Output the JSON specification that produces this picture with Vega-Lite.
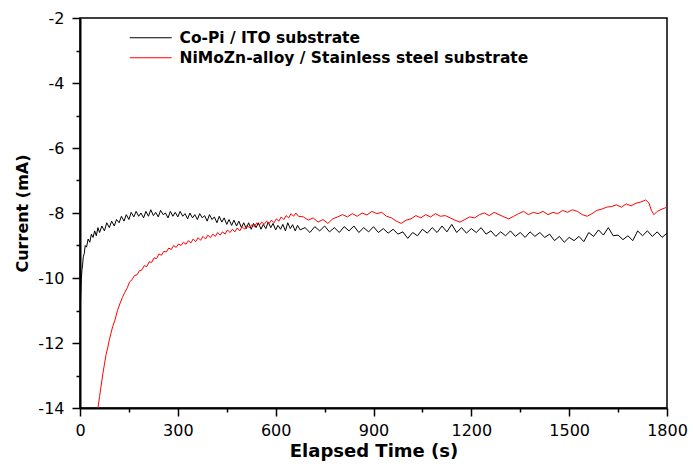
{
  "$schema": "https://vega.github.io/schema/vega-lite/v6.json",
  "width": 587,
  "height": 390,
  "autosize": {"type": "none"},
  "padding": {"left": 80, "top": 18, "right": 26, "bottom": 58},
  "background": "white",
  "config": {
    "view": {"stroke": "black", "strokeWidth": 1.5},
    "axis": {
      "domainColor": "black", "domainWidth": 2, "tickColor": "black", "tickWidth": 1.5,
      "labelFont": "DejaVu Sans", "labelFontSize": 16, "labelColor": "black",
      "titleFont": "DejaVu Sans", "titleFontWeight": "bold", "titleColor": "black",
      "grid": false
    },
    "legend": {"labelFont": "DejaVu Sans", "labelFontSize": 15.5, "labelFontWeight": "bold", "labelColor": "black", "labelLimit": 0}
  },
  "datasets": {
    "copi": [
      {"t":0,"v":-11.45},{"t":2,"v":-10.6},{"t":4,"v":-10.05},{"t":6,"v":-9.75},{"t":8,"v":-9.6},{"t":10,"v":-9.35},{"t":13,"v":-9.25},{"t":16,"v":-9.0},{"t":20,"v":-9.05},{"t":25,"v":-8.8},{"t":30,"v":-8.9},{"t":35,"v":-8.65},{"t":40,"v":-8.75},{"t":45,"v":-8.55},{"t":50,"v":-8.7},{"t":55,"v":-8.45},{"t":60,"v":-8.6},{"t":67,"v":-8.4},{"t":75,"v":-8.55},{"t":82,"v":-8.3},{"t":90,"v":-8.45},{"t":97,"v":-8.25},{"t":105,"v":-8.4},{"t":112,"v":-8.2},{"t":120,"v":-8.3},{"t":127,"v":-8.1},{"t":135,"v":-8.25},{"t":142,"v":-8.05},{"t":150,"v":-8.2},{"t":157,"v":-7.98},{"t":165,"v":-8.12},{"t":172,"v":-7.95},{"t":180,"v":-8.1},{"t":187,"v":-8.0},{"t":195,"v":-8.15},{"t":202,"v":-7.95},{"t":210,"v":-8.1},{"t":217,"v":-7.9},{"t":225,"v":-8.08},{"t":232,"v":-7.98},{"t":240,"v":-8.12},{"t":247,"v":-7.92},{"t":255,"v":-8.05},{"t":262,"v":-8.0},{"t":270,"v":-8.15},{"t":277,"v":-7.95},{"t":285,"v":-8.1},{"t":292,"v":-7.98},{"t":300,"v":-8.12},{"t":307,"v":-7.95},{"t":315,"v":-8.1},{"t":322,"v":-8.02},{"t":330,"v":-8.18},{"t":337,"v":-8.0},{"t":345,"v":-8.15},{"t":352,"v":-8.05},{"t":360,"v":-8.2},{"t":367,"v":-8.02},{"t":375,"v":-8.15},{"t":382,"v":-8.08},{"t":390,"v":-8.25},{"t":397,"v":-8.05},{"t":405,"v":-8.2},{"t":412,"v":-8.12},{"t":420,"v":-8.3},{"t":427,"v":-8.1},{"t":435,"v":-8.28},{"t":442,"v":-8.15},{"t":450,"v":-8.35},{"t":457,"v":-8.2},{"t":465,"v":-8.38},{"t":472,"v":-8.22},{"t":480,"v":-8.4},{"t":487,"v":-8.25},{"t":495,"v":-8.45},{"t":502,"v":-8.3},{"t":510,"v":-8.48},{"t":517,"v":-8.3},{"t":525,"v":-8.5},{"t":532,"v":-8.32},{"t":540,"v":-8.45},{"t":547,"v":-8.3},{"t":555,"v":-8.5},{"t":562,"v":-8.35},{"t":570,"v":-8.48},{"t":577,"v":-8.28},{"t":585,"v":-8.45},{"t":592,"v":-8.32},{"t":600,"v":-8.52},{"t":607,"v":-8.38},{"t":615,"v":-8.5},{"t":622,"v":-8.35},{"t":630,"v":-8.55},{"t":637,"v":-8.3},{"t":645,"v":-8.48},{"t":652,"v":-8.36},{"t":660,"v":-8.55},{"t":667,"v":-8.38},{"t":675,"v":-8.52},
      {"t":690,"v":-8.45},{"t":705,"v":-8.6},{"t":720,"v":-8.42},{"t":735,"v":-8.55},{"t":750,"v":-8.4},{"t":765,"v":-8.58},{"t":780,"v":-8.45},{"t":795,"v":-8.6},{"t":810,"v":-8.42},{"t":825,"v":-8.55},{"t":840,"v":-8.4},{"t":855,"v":-8.6},{"t":870,"v":-8.45},{"t":885,"v":-8.58},{"t":900,"v":-8.42},{"t":915,"v":-8.6},{"t":930,"v":-8.48},{"t":945,"v":-8.62},{"t":960,"v":-8.5},{"t":975,"v":-8.65},{"t":990,"v":-8.58},{"t":1005,"v":-8.78},{"t":1020,"v":-8.6},{"t":1035,"v":-8.7},{"t":1050,"v":-8.5},{"t":1065,"v":-8.62},{"t":1080,"v":-8.45},{"t":1095,"v":-8.6},{"t":1110,"v":-8.4},{"t":1125,"v":-8.58},{"t":1140,"v":-8.35},{"t":1155,"v":-8.6},{"t":1170,"v":-8.45},{"t":1185,"v":-8.62},{"t":1200,"v":-8.48},{"t":1215,"v":-8.6},{"t":1230,"v":-8.45},{"t":1245,"v":-8.65},{"t":1260,"v":-8.55},{"t":1275,"v":-8.72},{"t":1290,"v":-8.58},{"t":1305,"v":-8.7},{"t":1320,"v":-8.55},{"t":1335,"v":-8.72},{"t":1350,"v":-8.6},{"t":1365,"v":-8.75},{"t":1380,"v":-8.58},{"t":1395,"v":-8.72},{"t":1410,"v":-8.6},{"t":1425,"v":-8.75},{"t":1440,"v":-8.65},{"t":1455,"v":-8.85},{"t":1470,"v":-8.72},{"t":1485,"v":-8.9},{"t":1500,"v":-8.75},{"t":1515,"v":-8.85},{"t":1530,"v":-8.72},{"t":1545,"v":-8.88},{"t":1560,"v":-8.6},{"t":1575,"v":-8.72},{"t":1590,"v":-8.52},{"t":1605,"v":-8.68},{"t":1620,"v":-8.45},{"t":1635,"v":-8.7},{"t":1650,"v":-8.68},{"t":1665,"v":-8.82},{"t":1680,"v":-8.7},{"t":1695,"v":-8.85},{"t":1710,"v":-8.55},{"t":1725,"v":-8.7},{"t":1740,"v":-8.55},{"t":1755,"v":-8.72},{"t":1770,"v":-8.58},{"t":1785,"v":-8.75},{"t":1800,"v":-8.62}
    ],
    "nimozn": [
      {"t":55,"v":-14.0},{"t":60,"v":-13.65},{"t":65,"v":-13.3},{"t":70,"v":-12.95},{"t":75,"v":-12.65},{"t":80,"v":-12.35},{"t":85,"v":-12.15},{"t":90,"v":-11.9},{"t":95,"v":-11.7},{"t":100,"v":-11.5},{"t":107,"v":-11.3},{"t":115,"v":-11.0},{"t":122,"v":-10.8},{"t":130,"v":-10.6},{"t":137,"v":-10.45},{"t":145,"v":-10.3},{"t":152,"v":-10.12},{"t":160,"v":-10.05},{"t":167,"v":-9.92},{"t":175,"v":-9.9},{"t":182,"v":-9.78},{"t":190,"v":-9.75},{"t":197,"v":-9.62},{"t":205,"v":-9.65},{"t":212,"v":-9.5},{"t":220,"v":-9.52},{"t":227,"v":-9.38},{"t":235,"v":-9.4},{"t":242,"v":-9.26},{"t":250,"v":-9.3},{"t":257,"v":-9.18},{"t":265,"v":-9.2},{"t":272,"v":-9.08},{"t":280,"v":-9.12},{"t":287,"v":-9.0},{"t":295,"v":-9.06},{"t":302,"v":-8.95},{"t":310,"v":-9.0},{"t":317,"v":-8.9},{"t":325,"v":-8.96},{"t":332,"v":-8.85},{"t":340,"v":-8.92},{"t":347,"v":-8.8},{"t":355,"v":-8.88},{"t":362,"v":-8.76},{"t":370,"v":-8.84},{"t":377,"v":-8.72},{"t":385,"v":-8.8},{"t":392,"v":-8.68},{"t":400,"v":-8.76},{"t":407,"v":-8.65},{"t":415,"v":-8.72},{"t":422,"v":-8.6},{"t":430,"v":-8.68},{"t":437,"v":-8.58},{"t":445,"v":-8.65},{"t":452,"v":-8.52},{"t":460,"v":-8.6},{"t":467,"v":-8.5},{"t":475,"v":-8.58},{"t":482,"v":-8.46},{"t":490,"v":-8.55},{"t":497,"v":-8.42},{"t":505,"v":-8.5},{"t":512,"v":-8.38},{"t":520,"v":-8.46},{"t":527,"v":-8.36},{"t":535,"v":-8.42},{"t":542,"v":-8.3},{"t":550,"v":-8.38},{"t":557,"v":-8.28},{"t":565,"v":-8.35},{"t":572,"v":-8.25},{"t":580,"v":-8.32},{"t":587,"v":-8.22},{"t":595,"v":-8.3},{"t":602,"v":-8.18},{"t":610,"v":-8.25},{"t":617,"v":-8.12},{"t":625,"v":-8.2},{"t":632,"v":-8.08},{"t":640,"v":-8.15},{"t":647,"v":-8.02},{"t":655,"v":-8.1},{"t":662,"v":-8.0},{"t":670,"v":-8.1},
      {"t":685,"v":-8.12},{"t":700,"v":-8.22},{"t":715,"v":-8.15},{"t":730,"v":-8.28},{"t":745,"v":-8.2},{"t":760,"v":-8.32},{"t":775,"v":-8.18},{"t":790,"v":-8.12},{"t":805,"v":-8.05},{"t":820,"v":-8.12},{"t":835,"v":-8.02},{"t":850,"v":-8.1},{"t":865,"v":-8.0},{"t":880,"v":-8.06},{"t":895,"v":-7.95},{"t":910,"v":-8.02},{"t":925,"v":-7.98},{"t":940,"v":-8.1},{"t":955,"v":-8.15},{"t":970,"v":-8.25},{"t":985,"v":-8.32},{"t":1000,"v":-8.22},{"t":1015,"v":-8.18},{"t":1030,"v":-8.08},{"t":1045,"v":-8.15},{"t":1060,"v":-8.05},{"t":1075,"v":-8.12},{"t":1090,"v":-8.02},{"t":1105,"v":-8.1},{"t":1120,"v":-8.08},{"t":1135,"v":-8.15},{"t":1150,"v":-8.22},{"t":1165,"v":-8.28},{"t":1180,"v":-8.2},{"t":1195,"v":-8.12},{"t":1210,"v":-8.15},{"t":1225,"v":-8.05},{"t":1240,"v":-8.0},{"t":1255,"v":-8.08},{"t":1270,"v":-7.98},{"t":1285,"v":-8.05},{"t":1300,"v":-8.12},{"t":1315,"v":-8.18},{"t":1330,"v":-8.1},{"t":1345,"v":-8.02},{"t":1360,"v":-7.95},{"t":1375,"v":-8.05},{"t":1390,"v":-7.98},{"t":1405,"v":-8.02},{"t":1420,"v":-7.95},{"t":1435,"v":-8.05},{"t":1450,"v":-7.98},{"t":1465,"v":-8.02},{"t":1480,"v":-7.92},{"t":1495,"v":-7.98},{"t":1510,"v":-7.9},{"t":1525,"v":-7.95},{"t":1540,"v":-8.05},{"t":1555,"v":-8.1},{"t":1570,"v":-8.02},{"t":1585,"v":-7.92},{"t":1600,"v":-7.88},{"t":1615,"v":-7.82},{"t":1630,"v":-7.8},{"t":1645,"v":-7.75},{"t":1660,"v":-7.82},{"t":1675,"v":-7.72},{"t":1690,"v":-7.78},{"t":1705,"v":-7.7},{"t":1720,"v":-7.66},{"t":1735,"v":-7.6},{"t":1745,"v":-7.7},{"t":1752,"v":-7.92},{"t":1760,"v":-8.05},{"t":1770,"v":-7.95},{"t":1785,"v":-7.88},{"t":1800,"v":-7.82}
    ]
  },
  "encoding": {
    "x": {
      "field": "t", "type": "quantitative",
      "scale": {"domain": [0, 1800], "nice": false, "zero": false},
      "axis": {
        "title": "Elapsed Time (s)", "titleFontSize": 18,
        "values": [0,150,300,450,600,750,900,1050,1200,1350,1500,1650,1800],
        "labelExpr": "datum.value % 300 === 0 ? '' + datum.value : ''",
        "tickSize": {"condition": {"test": "datum.value % 300 === 0", "value": 8}, "value": 4},
        "labelPadding": 6, "titlePadding": 4, "labelFlush": false, "labelOverlap": false
      }
    },
    "y": {
      "field": "v", "type": "quantitative",
      "scale": {"domain": [-14, -2], "nice": false, "zero": false},
      "axis": {
        "title": "Current (mA)", "titleFontSize": 16,
        "values": [-14,-13,-12,-11,-10,-9,-8,-7,-6,-5,-4,-3,-2],
        "labelExpr": "datum.value % 2 === 0 ? '' + datum.value : ''",
        "tickSize": {"condition": {"test": "datum.value % 2 === 0", "value": 8}, "value": 4},
        "labelPadding": 8, "titlePadding": 7, "labelFlush": false, "labelOverlap": false
      }
    }
  },
  "layer": [
    {
      "data": {"name": "copi"},
      "mark": {"type": "line", "strokeWidth": 1, "clip": true},
      "encoding": {"color": {"datum": "Co-Pi / ITO substrate"}}
    },
    {
      "data": {"name": "nimozn"},
      "mark": {"type": "line", "strokeWidth": 1, "clip": true},
      "encoding": {
        "color": {
          "datum": "NiMoZn-alloy / Stainless steel substrate",
          "scale": {"domain": ["Co-Pi / ITO substrate", "NiMoZn-alloy / Stainless steel substrate"], "range": ["#000000", "#ff0000"]},
          "legend": {
            "title": null, "orient": "none", "legendX": 63, "legendY": 12,
            "symbolType": "M-4,0H4", "symbolSize": 110, "symbolStrokeWidth": 1.2,
            "labelOffset": 21, "rowPadding": 3
          }
        }
      }
    }
  ]
}
